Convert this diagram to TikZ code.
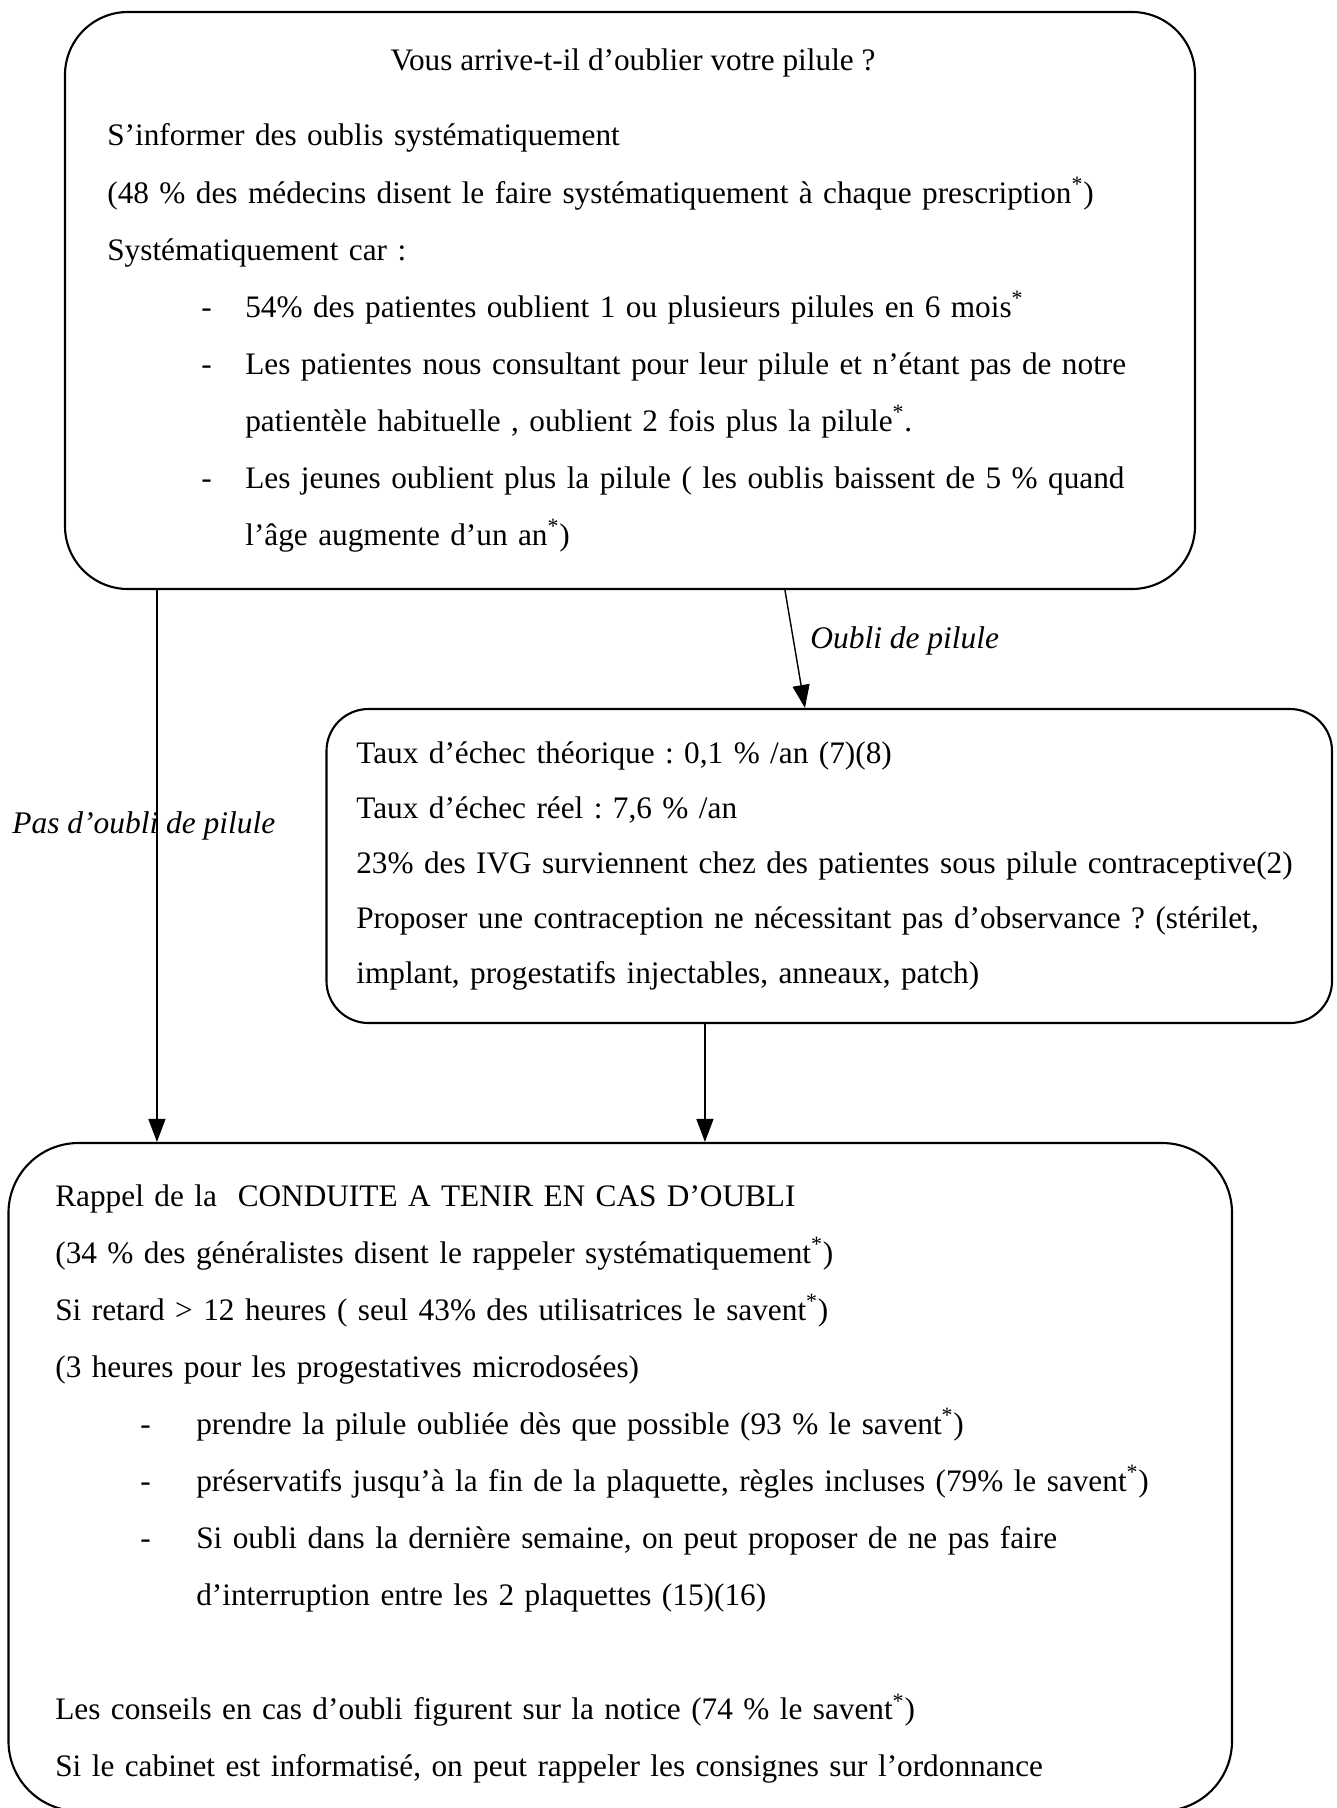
\documentclass[tikz,border=0pt]{standalone}
\usepackage{fontspec}
\setmainfont{Liberation Serif}
\usetikzlibrary{arrows.meta,calc}
\frenchspacing

\newcommand{\tiret}[2]{\hspace*{#1}\makebox[#2][l]{-}}

\begin{document}
\begin{tikzpicture}[x=0.2mm, y=-0.2mm,
  panel/.style={draw, line width=1.2pt, inner sep=0},
  txt/.style={anchor=base west, inner sep=0, text width=240mm, align=left, font=\fontsize{17.8pt}{11.4mm}\selectfont},
  lbl/.style={anchor=base west, inner sep=0, font=\fontsize{17.9pt}{11.4mm}\selectfont\itshape},
  arr/.style={-{Triangle[length=4.6mm, width=3.4mm]}, line width=0.8pt}]
\useasboundingbox (0,0) rectangle (1337,1808);
% the three boxes
\node[panel, rounded corners=12.6mm, minimum width=226mm, minimum height=115.4mm] (quest) at (630,300.5) {};
\node[panel, rounded corners=8.4mm, minimum width=201.1mm, minimum height=62.8mm] (taux) at (829.25,866) {};
\node[panel, rounded corners=14mm, minimum width=244.7mm, minimum height=133.6mm] (conduite) at (620.25,1477) {};
% top box
\node[anchor=base, inner sep=0, font=\fontsize{17.8pt}{11.4mm}\selectfont] (titre) at (633,71) {Vous arrive-t-il d’oublier votre pilule ?};
\node[txt] (oublis) at (107,146) {S’informer des oublis systématiquement\\
(48 \% des médecins disent le faire systématiquement à chaque prescription\textsuperscript{*})\\
Systématiquement car :\\
\tiret{18.8mm}{8.8mm}54\% des patientes oublient 1 ou plusieurs pilules en 6 mois\textsuperscript{*}\\
\tiret{18.8mm}{8.8mm}Les patientes nous consultant pour leur pilule et n’étant pas de notre\\
\hspace*{27.6mm}patientèle habituelle , oublient 2 fois plus la pilule\textsuperscript{*}.\\
\tiret{18.8mm}{8.8mm}Les jeunes oublient plus la pilule ( les oublis baissent de 5 \% quand\\
\hspace*{27.6mm}l’âge augmente d’un an\textsuperscript{*})};
% middle box
\node[txt, font=\fontsize{17.8pt}{11mm}\selectfont] (echec) at (356,763) {Taux d’échec théorique : 0,1 \% /an (7)(8)\\
Taux d’échec réel : 7,6 \% /an\\
23\% des IVG surviennent chez des patientes sous pilule contraceptive(2)\\
Proposer une contraception ne nécessitant pas d’observance ? (stérilet,\\
implant, progestatifs injectables, anneaux, patch)};
% bottom box
\node[txt] (rappel) at (55,1206) {Rappel de la\ \ CONDUITE A TENIR EN CAS D’OUBLI\\
(34 \% des généralistes disent le rappeler systématiquement\textsuperscript{*})\\
Si retard > 12 heures ( seul 43\% des utilisatrices le savent\textsuperscript{*})\\
(3 heures pour les progestatives microdosées)\\
\tiret{17mm}{11.2mm}prendre la pilule oubliée dès que possible (93 \% le savent\textsuperscript{*})\\
\tiret{17mm}{11.2mm}préservatifs jusqu’à la fin de la plaquette, règles incluses (79\% le savent\textsuperscript{*})\\
\tiret{17mm}{11.2mm}Si oubli dans la dernière semaine, on peut proposer de ne pas faire\\
\hspace*{28.2mm}d’interruption entre les 2 plaquettes (15)(16)\\[11.4mm]
Les conseils en cas d’oubli figurent sur la notice (74 \% le savent\textsuperscript{*})\\
Si le cabinet est informatisé, on peut rappeler les consignes sur l’ordonnance};
% arrows
\coordinate (gauche) at ($(quest.south west)+(93,0)$);
\coordinate (milieu) at ($(taux.south west)+(379.5,0)$);
\draw[arr] (gauche) -- (gauche |- conduite.north);
\draw[arr] ($(quest.south west)+(721,0)$) -- ($(taux.north west)+(479.5,0)$);
\draw[arr] (milieu) -- (milieu |- conduite.north);
\node[lbl] (oubli) at (810,648) {Oubli de pilule};
\node[lbl] (pasoubli) at (12,833) {Pas d’oubli de pilule};
\end{tikzpicture}
\end{document}
